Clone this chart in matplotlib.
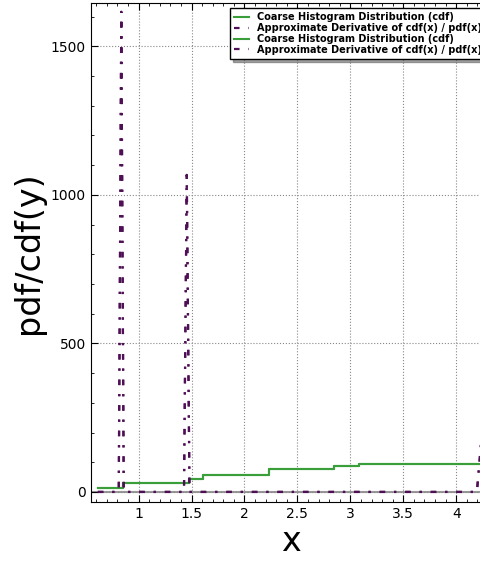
import matplotlib.pyplot as plt
from matplotlib.ticker import MultipleLocator

# coarse histogram cdf (step line)
cdf_x = [0.615, 0.849, 1.476, 1.61, 2.233, 2.85, 3.085, 4.32]
cdf_y = [14.5, 31, 45, 56, 78, 88.5, 95, 95]

# approximate derivative (pdf)
pdf_x = [0.615, 0.813, 0.837, 0.86, 1.429, 1.455, 1.481, 4.195, 4.25]
pdf_y = [0, 0, 1616, 0, 0, 1067, 0, 0, 230]

fig = plt.figure(figsize=(4.81, 5.63), dpi=100)
ax = fig.add_axes([0.189, 0.1083, 0.83, 0.886])

ax.axhline(0, color='#999999', lw=1.5, zorder=1)
for _ in range(2):
    ax.plot(cdf_x, cdf_y, drawstyle='steps-post', color='#3a9e3a', lw=1.5,
            label='Coarse Histogram Distribution (cdf)', zorder=3)
    ax.plot(pdf_x, pdf_y, color='#4f0f55', lw=1.6, dashes=[2.5, 4, 1, 4],
            label='Approximate Derivative of cdf(x) / pdf(x)', zorder=4)

ax.set_xlim(0.55, 4.32)
ax.set_ylim(-34, 1645)
ax.xaxis.set_minor_locator(MultipleLocator(0.1))
ax.yaxis.set_major_locator(MultipleLocator(500))
ax.yaxis.set_minor_locator(MultipleLocator(100))
ax.set_xticks([1, 1.5, 2, 2.5, 3, 3.5, 4])
ax.set_xticklabels(['1', '1.5', '2', '2.5', '3', '3.5', '4'])
ax.tick_params(which='both', direction='in', top=True, right=True, labelsize=10)
ax.tick_params(which='major', length=5)
ax.tick_params(which='minor', length=2.5)
ax.grid(True, which='major', linestyle=':', color='#888888', lw=0.8)

ax.set_xlabel('x', fontsize=24, labelpad=3)
ax.set_ylabel('pdf/cdf(y)', fontsize=24)

ax.legend(loc='upper right', prop={'weight': 'bold', 'size': 7}, shadow=True,
          fancybox=False, labelspacing=0.1, handlelength=1.5,
          framealpha=1, edgecolor='black', borderaxespad=0.5)

fig.savefig('out.png', dpi=100)
